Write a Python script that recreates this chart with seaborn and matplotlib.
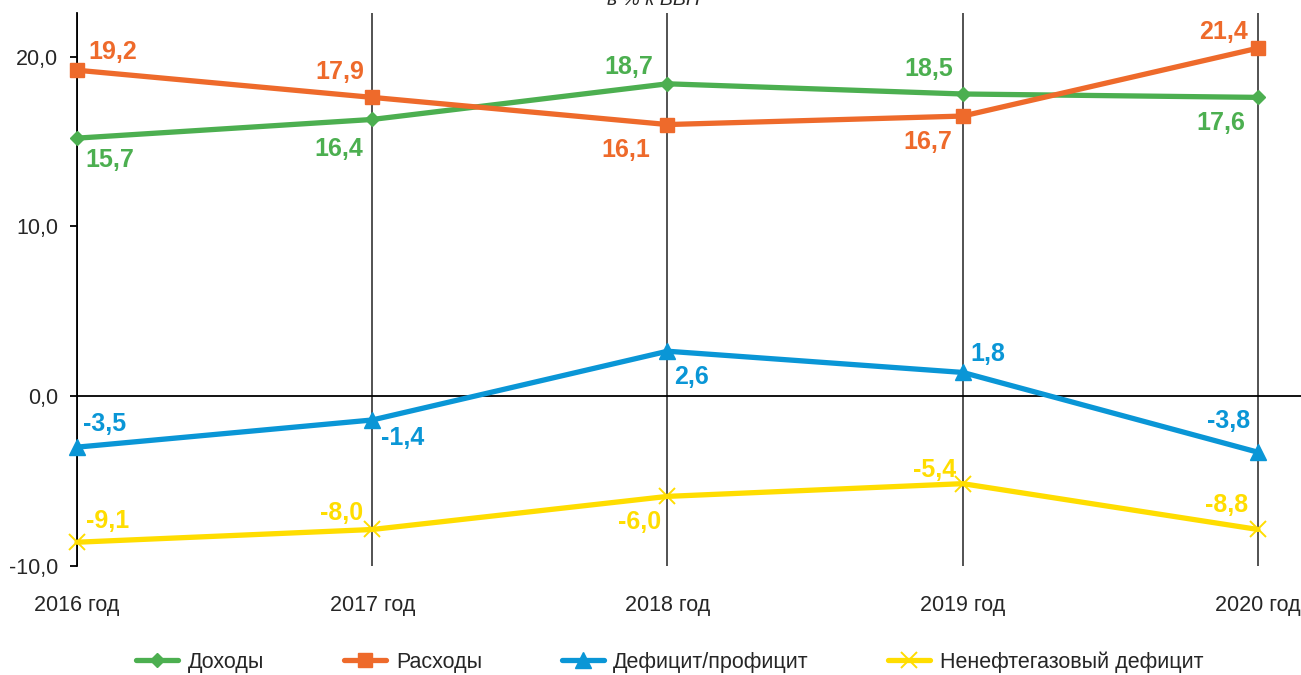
import matplotlib
matplotlib.use('Agg')
import matplotlib.pyplot as plt
import seaborn as sns
import pandas as pd

# --- data ---
years = ['2016 год', '2017 год', '2018 год', '2019 год', '2020 год']

income = [15.2, 16.3, 18.4, 17.8, 17.6]
income_labels = ['15,7', '16,4', '18,7', '18,5', '17,6']

spending = [19.2, 17.6, 16.0, 16.5, 20.5]
spending_labels = ['19,2', '17,9', '16,1', '16,7', '21,4']

balance = [-3.0, -1.4, 2.65, 1.4, -3.3]
balance_labels = ['-3,5', '-1,4', '2,6', '1,8', '-3,8']

nonoil = [-8.6, -7.85, -5.9, -5.15, -7.85]
nonoil_labels = ['-9,1', '-8,0', '-6,0', '-5,4', '-8,8']

yticks = [-10, 0, 10, 20]

# style
sns.set_style("white")
plt.rcParams['font.family'] = ['Liberation Sans', 'DejaVu Sans']

fig = plt.figure(figsize=(13.01, 6.75), dpi=100)
ax = fig.add_axes([77 / 1301, 109 / 675, 1224 / 1301, 553 / 675])

x = list(range(len(years)))

series = [
    ('Доходы', income, income_labels, '#4CAF50', 'D', 7, 1,
     [(8, -22), (-9, -30), (-14, 17), (-10, 25), (-13, -26)]),
    ('Расходы', spending, spending_labels, '#EE6A2B', 's', 10.5, 1,
     [(11, 18), (-8, 25), (-17, -25), (-10, -26), (-10, 16)]),
    ('Дефицит/профицит', balance, balance_labels, '#0A96D6', '^', 11, 1,
     [(6, 23), (9, -18), (7, -26), (8, 18), (-8, 31)]),
    ('Ненефтегазовый дефицит', nonoil, nonoil_labels, '#FFDD00', 'x', 11, 1.4,
     [(9, 21), (-9, 16), (-6, -26), (-7, 14), (-10, 24)]),
]

# grid lines and zero line under the series
for xi in x:
    ax.axvline(xi, color='#000000' if xi == 0 else '#444444', lw=1.3, zorder=1)
ax.axhline(0, color='black', lw=1.3, zorder=1)

for name, vals, labels, color, marker, ms, mew, offsets in series:
    df = pd.DataFrame({'x': x, 'y': vals})
    sns.lineplot(data=df, x='x', y='y', ax=ax, color=color, lw=3.8,
                 marker=marker, markersize=ms, markeredgewidth=mew,
                 markeredgecolor=color, label=name, zorder=3, clip_on=False)
    for xi, yi, lab, (dx, dy) in zip(x, vals, labels, offsets):
        ax.annotate(lab, (xi, yi), xytext=(dx, dy), textcoords='offset pixels',
                    ha='left' if dx > 0 else 'right', va='center',
                    fontsize=18, fontweight='bold', color=color, zorder=4)

ax.set_xlim(0, 4 * 1224 / 1181)
ax.set_ylim(-10, 22.57)
ax.set_xticks(x)
ax.set_xticklabels(years, fontsize=15.5)
ax.set_yticks(yticks)
ax.set_yticklabels([f'{v:.1f}'.replace('.', ',') for v in yticks], fontsize=15.5)
ax.tick_params(axis='x', length=0, pad=21)
ax.tick_params(axis='y', length=5, width=1.3, color='black', pad=8.5, left=True)
ax.set_xlabel('')
ax.set_ylabel('')
for side in ['top', 'right', 'bottom']:
    ax.spines[side].set_visible(False)
ax.spines['left'].set_color('black')
ax.spines['left'].set_linewidth(1.3)

# legend at the bottom
handles, labels = ax.get_legend_handles_labels()
ax.legend_.remove()
fig.legend(handles, labels, loc='center', bbox_to_anchor=(0.515, 0.0193),
           ncol=4, frameon=False, fontsize=15.5, handlelength=1.95,
           handletextpad=0.45, columnspacing=3.7)

# title, mostly cut off at the top edge as in the source
fig.text(653 / 1301, 0.993, 'в % к ВВП', ha='center', va='baseline',
         fontsize=14, style='italic')

plt.savefig('out.png', dpi=100)
